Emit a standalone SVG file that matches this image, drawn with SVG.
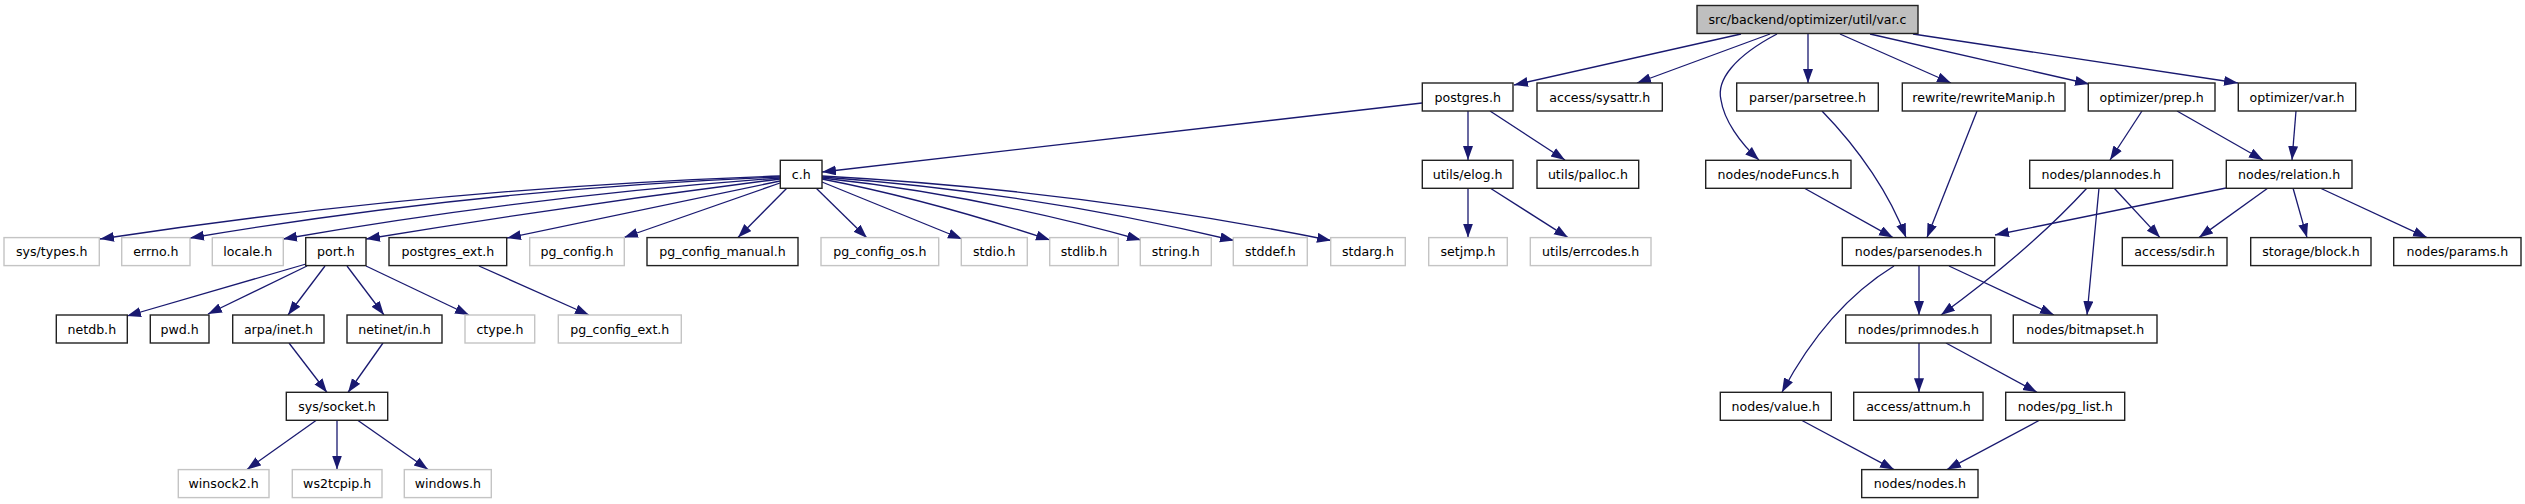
<svg xmlns="http://www.w3.org/2000/svg" width="2525" height="504" viewBox="0 0 2525 504">
<style>
.n rect{fill:#fff;stroke:#222;stroke-width:1.4}
.n.x rect{stroke:#c4c4c4}
.n.r rect{fill:#bfbfbf}
.n text{font-family:"DejaVu Sans",sans-serif;font-size:12.6px;text-anchor:middle;fill:#000}
#edges path{fill:none;stroke:#191970;stroke-width:1.3;marker-end:url(#a)}
</style>
<defs>
<marker id="a" markerUnits="userSpaceOnUse" markerWidth="15" markerHeight="11" refX="14" refY="5" orient="auto"><path d="M0,0L14,5L0,10z" fill="#191970"/></marker>
</defs>
<rect width="2525" height="504" fill="#fff"/>
<g id="edges">
<path d="M1741,34L1514,85"/>
<path d="M1770,34L1637,83"/>
<path d="M1777,34C1735,56 1716,80 1721,100C1724,120 1740,143 1759,160"/>
<path d="M1808,34L1808,83"/>
<path d="M1840,34L1951,83"/>
<path d="M1870,34L2089,84"/>
<path d="M1913,34L2238,83"/>
<path d="M1422,103L822,172"/>
<path d="M1468,111L1468,160"/>
<path d="M1490,111L1565,160"/>
<path d="M1468,188L1468,237.6"/>
<path d="M1490,188L1568,237.6"/>
<path d="M780,176Q440,187.5 100,239"/>
<path d="M780,177Q485,188.5 190,238"/>
<path d="M780,178Q531,196 283,239"/>
<path d="M780,179Q573,205 366,239"/>
<path d="M780,181L507,238"/>
<path d="M780,183L624,237.5"/>
<path d="M787,188L738,237.5"/>
<path d="M816,188L867,238"/>
<path d="M822,182L962,239"/>
<path d="M822,179Q930,200 1050,240"/>
<path d="M822,178Q980,195 1141,240"/>
<path d="M822,177Q1030,192 1234,240.5"/>
<path d="M822,176Q1080,190 1331,240.5"/>
<path d="M306,264L127,316"/>
<path d="M307,266L208,314"/>
<path d="M325,266L288,315"/>
<path d="M347,266L384,315"/>
<path d="M366,266L469,315"/>
<path d="M479,266L589,315"/>
<path d="M289,343L327,392.5"/>
<path d="M383,343L348,392.5"/>
<path d="M316,420.5L247,469.5"/>
<path d="M337,420.5L337,469.5"/>
<path d="M358,420.5L428,469.5"/>
<path d="M1822,111C1860,150 1890,195 1906,237.6"/>
<path d="M1977,111L1927,237.6"/>
<path d="M1804,188L1893,237.6"/>
<path d="M2226,188L1995,235"/>
<path d="M2268,188L2199,237.6"/>
<path d="M2293,188L2307,237.6"/>
<path d="M2320,188L2427,237.6"/>
<path d="M2142,111L2110,160"/>
<path d="M2177,111L2263,160"/>
<path d="M2296,111L2292,160"/>
<path d="M2114,188L2160,237.6"/>
<path d="M2087,188Q2030,250 1941,315"/>
<path d="M2099,188L2087,315"/>
<path d="M1894,266C1855,290 1815,330 1782,392.3"/>
<path d="M1919,266L1919,315"/>
<path d="M1949,266L2054,315"/>
<path d="M1919,343L1919,392.3"/>
<path d="M1946,343L2037,392.3"/>
<path d="M1802,420.5L1894,469.6"/>
<path d="M2039,420.5L1947,469.6"/>
</g>
<g id="n_var_c" class="n r"><rect x="1697" y="5.5" width="221" height="28"/><text x="1807.5" y="24">src/backend/optimizer/util/var.c</text></g>
<g id="n_postgres_h" class="n"><rect x="1422.3" y="83" width="90.7" height="28"/><text x="1467.7" y="101.5">postgres.h</text></g>
<g id="n_sysattr_h" class="n"><rect x="1537" y="83" width="125.3" height="28"/><text x="1599.7" y="101.5">access/sysattr.h</text></g>
<g id="n_parsetree_h" class="n"><rect x="1736.7" y="83" width="141.6" height="28"/><text x="1807.5" y="101.5">parser/parsetree.h</text></g>
<g id="n_rewriteManip_h" class="n"><rect x="1902.3" y="83" width="162.7" height="28"/><text x="1983.7" y="101.5">rewrite/rewriteManip.h</text></g>
<g id="n_prep_h" class="n"><rect x="2088.3" y="83" width="126.7" height="28"/><text x="2151.7" y="101.5">optimizer/prep.h</text></g>
<g id="n_var_h" class="n"><rect x="2238.3" y="83" width="117.4" height="28"/><text x="2297" y="101.5">optimizer/var.h</text></g>
<g id="n_c_h" class="n"><rect x="780.3" y="160.3" width="41.7" height="28"/><text x="801.2" y="178.8">c.h</text></g>
<g id="n_elog_h" class="n"><rect x="1422.3" y="160.3" width="90.7" height="28"/><text x="1467.7" y="178.8">utils/elog.h</text></g>
<g id="n_palloc_h" class="n"><rect x="1537" y="160.3" width="101.7" height="28"/><text x="1587.9" y="178.8">utils/palloc.h</text></g>
<g id="n_nodeFuncs_h" class="n"><rect x="1705.7" y="160.3" width="145.3" height="28"/><text x="1778.4" y="178.8">nodes/nodeFuncs.h</text></g>
<g id="n_plannodes_h" class="n"><rect x="2029.7" y="160.3" width="143" height="28"/><text x="2101.2" y="178.8">nodes/plannodes.h</text></g>
<g id="n_relation_h" class="n"><rect x="2226.3" y="160.3" width="125.7" height="28"/><text x="2289.2" y="178.8">nodes/relation.h</text></g>
<g id="n_sys_types_h" class="n x"><rect x="4" y="237.6" width="95.3" height="28"/><text x="51.7" y="256.1">sys/types.h</text></g>
<g id="n_errno_h" class="n x"><rect x="121.7" y="237.6" width="68.3" height="28"/><text x="155.9" y="256.1">errno.h</text></g>
<g id="n_locale_h" class="n x"><rect x="212.3" y="237.6" width="71" height="28"/><text x="247.8" y="256.1">locale.h</text></g>
<g id="n_port_h" class="n"><rect x="305.7" y="237.6" width="60.3" height="28"/><text x="335.9" y="256.1">port.h</text></g>
<g id="n_postgres_ext_h" class="n"><rect x="389" y="237.6" width="117.7" height="28"/><text x="447.9" y="256.1">postgres_ext.h</text></g>
<g id="n_pg_config_h" class="n x"><rect x="529.7" y="237.6" width="94.6" height="28"/><text x="577" y="256.1">pg_config.h</text></g>
<g id="n_pg_config_manual_h" class="n"><rect x="647" y="237.6" width="151" height="28"/><text x="722.5" y="256.1">pg_config_manual.h</text></g>
<g id="n_pg_config_os_h" class="n x"><rect x="821" y="237.6" width="117.7" height="28"/><text x="879.9" y="256.1">pg_config_os.h</text></g>
<g id="n_stdio_h" class="n x"><rect x="961.3" y="237.6" width="66" height="28"/><text x="994.3" y="256.1">stdio.h</text></g>
<g id="n_stdlib_h" class="n x"><rect x="1049.7" y="237.6" width="68.6" height="28"/><text x="1084" y="256.1">stdlib.h</text></g>
<g id="n_string_h" class="n x"><rect x="1140.3" y="237.6" width="71" height="28"/><text x="1175.8" y="256.1">string.h</text></g>
<g id="n_stddef_h" class="n x"><rect x="1233.3" y="237.6" width="74" height="28"/><text x="1270.3" y="256.1">stddef.h</text></g>
<g id="n_stdarg_h" class="n x"><rect x="1330.7" y="237.6" width="74.6" height="28"/><text x="1368" y="256.1">stdarg.h</text></g>
<g id="n_setjmp_h" class="n x"><rect x="1428.7" y="237.6" width="78.6" height="28"/><text x="1468" y="256.1">setjmp.h</text></g>
<g id="n_errcodes_h" class="n x"><rect x="1530.3" y="237.6" width="120.7" height="28"/><text x="1590.7" y="256.1">utils/errcodes.h</text></g>
<g id="n_parsenodes_h" class="n"><rect x="1842.3" y="237.6" width="152.4" height="28"/><text x="1918.5" y="256.1">nodes/parsenodes.h</text></g>
<g id="n_sdir_h" class="n"><rect x="2122.3" y="237.6" width="104.7" height="28"/><text x="2174.7" y="256.1">access/sdir.h</text></g>
<g id="n_block_h" class="n"><rect x="2250.7" y="237.6" width="120.3" height="28"/><text x="2310.9" y="256.1">storage/block.h</text></g>
<g id="n_params_h" class="n"><rect x="2393.7" y="237.6" width="127.3" height="28"/><text x="2457.4" y="256.1">nodes/params.h</text></g>
<g id="n_netdb_h" class="n"><rect x="56.3" y="315" width="71" height="28"/><text x="91.8" y="333.5">netdb.h</text></g>
<g id="n_pwd_h" class="n"><rect x="150.3" y="315" width="58.7" height="28"/><text x="179.7" y="333.5">pwd.h</text></g>
<g id="n_arpa_inet_h" class="n"><rect x="232.7" y="315" width="91.3" height="28"/><text x="278.4" y="333.5">arpa/inet.h</text></g>
<g id="n_netinet_in_h" class="n"><rect x="347" y="315" width="95" height="28"/><text x="394.5" y="333.5">netinet/in.h</text></g>
<g id="n_ctype_h" class="n x"><rect x="465" y="315" width="69.7" height="28"/><text x="499.9" y="333.5">ctype.h</text></g>
<g id="n_pg_config_ext_h" class="n x"><rect x="558.3" y="315" width="123" height="28"/><text x="619.8" y="333.5">pg_config_ext.h</text></g>
<g id="n_primnodes_h" class="n"><rect x="1845.7" y="315" width="145.3" height="28"/><text x="1918.4" y="333.5">nodes/primnodes.h</text></g>
<g id="n_bitmapset_h" class="n"><rect x="2013.3" y="315" width="143.7" height="28"/><text x="2085.2" y="333.5">nodes/bitmapset.h</text></g>
<g id="n_sys_socket_h" class="n"><rect x="286.3" y="392.3" width="101.4" height="28"/><text x="337" y="410.8">sys/socket.h</text></g>
<g id="n_value_h" class="n"><rect x="1720.3" y="392.3" width="111" height="28"/><text x="1775.8" y="410.8">nodes/value.h</text></g>
<g id="n_attnum_h" class="n"><rect x="1853.7" y="392.3" width="129.3" height="28"/><text x="1918.4" y="410.8">access/attnum.h</text></g>
<g id="n_pg_list_h" class="n"><rect x="2005.7" y="392.3" width="119" height="28"/><text x="2065.2" y="410.8">nodes/pg_list.h</text></g>
<g id="n_winsock2_h" class="n x"><rect x="178.3" y="469.6" width="90.7" height="28"/><text x="223.7" y="488.1">winsock2.h</text></g>
<g id="n_ws2tcpip_h" class="n x"><rect x="292.3" y="469.6" width="89.7" height="28"/><text x="337.2" y="488.1">ws2tcpip.h</text></g>
<g id="n_windows_h" class="n x"><rect x="404.3" y="469.6" width="87" height="28"/><text x="447.8" y="488.1">windows.h</text></g>
<g id="n_nodes_h" class="n"><rect x="1861.7" y="469.6" width="116.3" height="28"/><text x="1919.9" y="488.1">nodes/nodes.h</text></g>
</svg>
